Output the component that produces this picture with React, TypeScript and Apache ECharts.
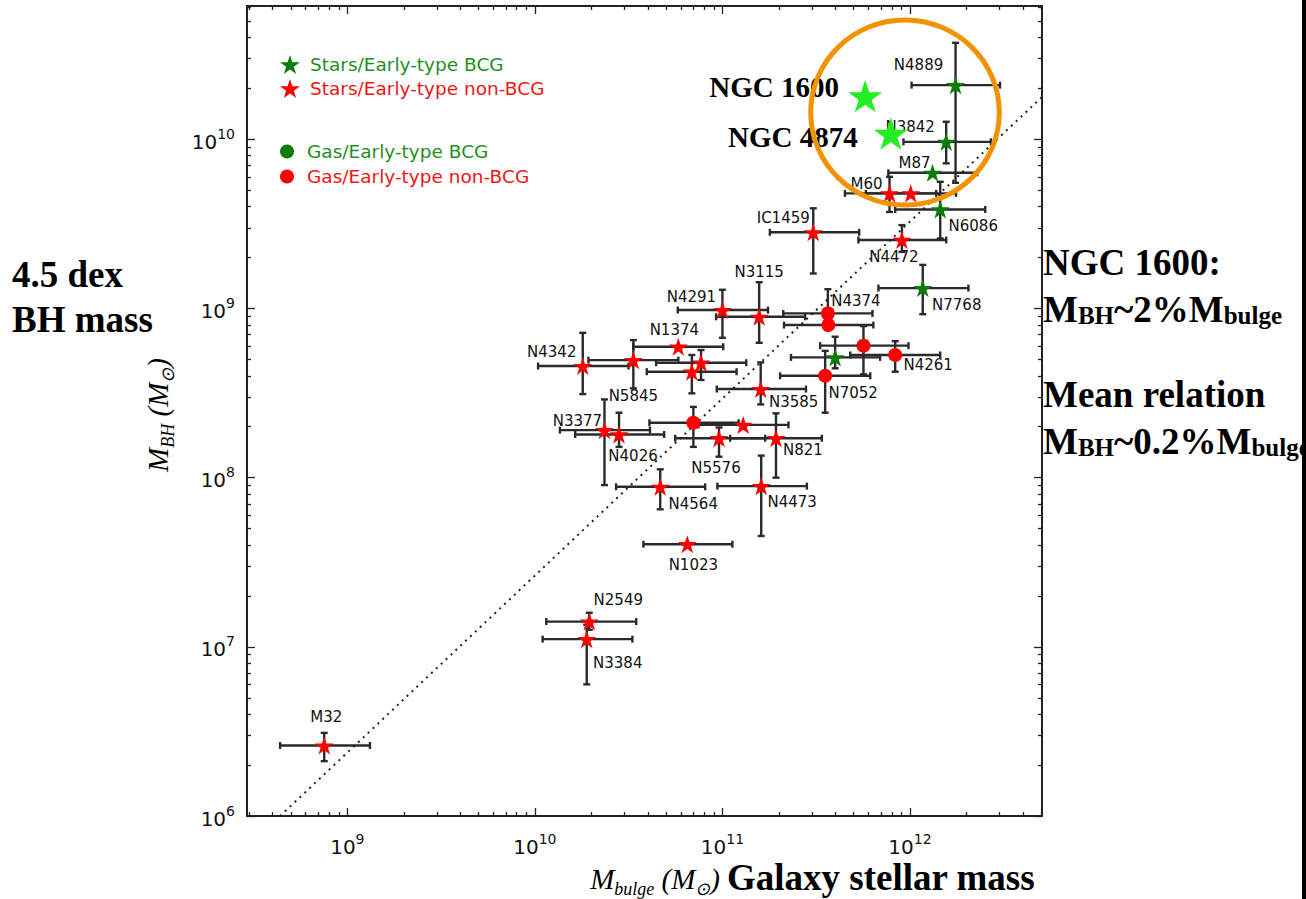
import React, { useEffect, useRef } from 'react';
import * as echarts from 'echarts';

// ---------- axis ranges (log10 of solar masses) and tick exponents ----------
const xLogRange = [8.465, 12.704];
const yLogRange = [6, 10.788];
const xMajorExponents = [9, 10, 11, 12];
const yMajorExponents = [6, 7, 8, 9, 10];
const minorMultipliers = [2, 3, 4, 5, 6, 7, 8, 9];

// ---------- Stars / Early-type BCG ----------
const starsBcgNames = ['N4889', 'N3842', 'M87', 'N6086', 'N7768', ''];
const starsBcgMbulge = [1.75e12, 1.56e12, 1.32e12, 1.45e12, 1.17e12, 3.99e11];
const starsBcgMbh = [2.09e10, 9.66e9, 6.34e9, 3.85e9, 1.32e9, 5.14e8];
const starsBcgMbulgeErr = [[1.02e12, 3.02e12], [9.23e11, 2.7e12], [7.67e11, 2.28e12], [8.34e11, 2.52e12], [6.79e11, 2.05e12], [2.32e11, 6.93e11]];
const starsBcgMbhErr = [[5.53e9, 3.72e10], [7.21e9, 1.27e10], null, [2.59e9, 5.61e9], [9.25e8, 1.81e9], [4.43e8, 6.81e8]];

// ---------- Stars / Early-type non-BCG ----------
const starsNonNames = ['M60', '', 'IC1459', 'N4472', 'N3115', 'N4291', 'N4342', 'N5845', 'N1374', '', '', 'N3585', 'N3377', 'N4026', '', 'N5576', 'N821', 'N4564', 'N4473', 'N1023', 'N2549', 'N3384', 'M32'];
const starsNonMbulge = [7.78e11, 1.01e12, 3.05e11, 9.06e11, 1.57e11, 1.0e11, 1.8e10, 3.35e10, 5.82e10, 7.69e10, 6.87e10, 1.6e11, 2.35e10, 2.81e10, 1.29e11, 9.59e10, 1.93e11, 4.66e10, 1.61e11, 6.5e10, 1.95e10, 1.89e10, 7.53e8];
const starsNonMbh = [4.79e9, 4.79e9, 2.82e9, 2.54e9, 8.93e8, 9.79e8, 4.57e8, 4.95e8, 5.94e8, 4.78e8, 4.23e8, 3.34e8, 1.91e8, 1.8e8, 2.05e8, 1.71e8, 1.71e8, 8.83e7, 8.91e7, 4.04e7, 1.41e7, 1.11e7, 2.61e6];
const starsNonMbulgeErr = [[4.5e11, 1.38e12], [5.82e11, 1.76e12], [1.79e11, 5.36e11], [5.31e11, 1.56e12], [9.25e10, 2.76e11], [5.78e10, 1.75e11], [1.04e10, 3.16e10], [1.93e10, 5.82e10], [3.35e10, 1.01e11], [4.43e10, 1.34e11], [3.95e10, 1.19e11], [9.33e10, 2.79e11], [1.36e10, 4.11e10], [1.64e10, 4.89e10], [7.45e10, 2.25e11], [5.6e10, 1.69e11], [1.1e11, 3.39e11], [2.71e10, 8.09e10], [9.4e10, 2.82e11], [3.79e10, 1.13e11], [1.15e10, 3.47e10], [1.1e10, 3.31e10], [4.38e8, 1.32e9]];
const starsNonMbhErr = [[3.72e9, 6.0e9], null, [1.61e9, 3.91e9], [2.16e9, 3.11e9], [6.27e8, 1.43e9], [6.71e8, 1.29e9], [3.12e8, 7.18e8], [3.37e8, 6.5e8], null, [3.78e8, 5.68e8], [3.15e8, 5.31e8], [2.71e8, 4.8e8], [9.04e7, 2.9e8], [1.52e8, 2.42e8], null, [1.33e8, 1.98e8], [1.0e8, 2.4e8], [6.5e7, 1.12e8], [4.52e7, 1.35e8], null, [1.26e7, 1.59e7], [6.0e6, 1.35e7], [2.11e6, 3.1e6]];

// ---------- Gas / Early-type BCG (none plotted) ----------
const gasBcgMbulge: number[] = [];
const gasBcgMbh: number[] = [];

// ---------- Gas / Early-type non-BCG ----------
const gasNonNames = ['N4374', '', '', 'N4261', 'N7052', ''];
const gasNonMbulge = [3.65e11, 3.67e11, 5.65e11, 8.34e11, 3.53e11, 7.0e10];
const gasNonMbh = [9.35e8, 7.98e8, 6.03e8, 5.31e8, 4.0e8, 2.11e8];
const gasNonMbulgeErr = [[2.11e11, 6.31e11], [2.13e11, 6.38e11], [3.32e11, 9.82e11], [4.8e11, 1.45e12], [2.03e11, 6.14e11], [4.08e10, 1.22e11]];
const gasNonMbhErr = [[7.45e8, 1.3e9], null, [4.08e8, 7.87e8], [4.23e8, 6.41e8], [2.42e8, 5.62e8], [1.52e8, 2.62e8]];

// ---------- highlighted new measurements ----------
const highlightNames = ['NGC 1600', 'NGC 4874'];
const highlightMbulge = [5.77e11, 7.91e11];
const highlightMbh = [1.8e10, 1.08e10];

// ---------- mean relation (dotted line end points) ----------
const meanRelationMbulge = [4.38e8, 5.06e12];
const meanRelationMbh = [1.0e6, 1.78e10];

// ---------- label placement (pixel offsets from the marker) ----------
const labelOffsets: Record<string, [number, number]> = {
  N4889: [-37, -20], N3842: [-36, -15], M87: [-18, -10], M60: [-23, -9], N6086: [33, 17],
  IC1459: [-30, -14], N4472: [-8, 17], N3115: [0, -45], N4291: [-31, -13], N4374: [28, -12],
  N7768: [34, 17], N4261: [33, 10], N7052: [28, 17], N3585: [33, 13], N5576: [-3, 30],
  N821: [27, 12], N4564: [33, 17], N4473: [31, 16], N1023: [6, 21], N1374: [-4, -17],
  N4342: [-31, -14], N5845: [0, 36], N3377: [-27, -9], N4026: [14, 22], N2549: [29, -22],
  N3384: [31, 24], M32: [2, -29], 'NGC 1600': [-91, -9], 'NGC 4874': [-98, 3],
};

const STAR = 'path://M0,-10L2.245,-3.09L9.511,-3.09L3.633,1.18L5.878,8.09L0,3.82L-5.878,8.09L-3.633,1.18L-9.511,-3.09L-2.245,-3.09Z';
const GREEN = '#0a7d0a';
const RED = '#ff0000';
const LIME = '#22ee22';
const lg = Math.log10;

function minorValues(range: number[]) {
  const out: number[] = [];
  for (let n = Math.floor(range[0]); n <= Math.ceil(range[1]); n++) {
    for (const k of minorMultipliers) {
      const v = n + lg(k);
      if (v > range[0] && v < range[1]) out.push(v);
    }
  }
  return out;
}

function errRows(mb: number[], mh: number[], xe: (number[] | null)[], ye: (number[] | null)[]) {
  return mb.map((m, i) => [
    lg(m), lg(mh[i]),
    xe[i] ? lg(xe[i]![0]) : NaN, xe[i] ? lg(xe[i]![1]) : NaN,
    ye[i] ? lg(ye[i]![0]) : NaN, ye[i] ? lg(ye[i]![1]) : NaN,
  ]);
}

function pointData(names: string[], mb: number[], mh: number[]) {
  return mb.map((m, i) => {
    const name = names[i];
    return {
      name,
      value: [lg(m), lg(mh[i])],
      label: name ? { show: true, position: 'inside', offset: labelOffsets[name] || [0, 0] } : { show: false },
    };
  });
}

const tickFont = 'DejaVu Sans';
const tickRich = {
  b: { fontSize: 20, fontFamily: tickFont, color: '#111', lineHeight: 25, verticalAlign: 'bottom' },
  s: { fontSize: 14, fontFamily: tickFont, color: '#111', lineHeight: 14, verticalAlign: 'top' },
};
const axisColor = '#222';

function makeX(position: string, values: number[], length: number, labels: boolean, line: boolean) {
  return {
    type: 'value', position, min: xLogRange[0], max: xLogRange[1],
    axisLine: { show: line, onZero: false, lineStyle: { color: axisColor, width: 2 } },
    axisTick: { show: true, inside: true, length, customValues: values, lineStyle: { color: axisColor, width: 1.3 } },
    axisLabel: labels
      ? { show: true, customValues: values, margin: 16, formatter: (v: number) => `{b|10}{s|${Math.round(v)}}`, rich: tickRich }
      : { show: false },
    splitLine: { show: false },
  };
}
function makeY(position: string, values: number[], length: number, labels: boolean, line: boolean) {
  return {
    type: 'value', position, min: yLogRange[0], max: yLogRange[1],
    axisLine: { show: line, onZero: false, lineStyle: { color: axisColor, width: 2 } },
    axisTick: { show: true, inside: true, length, customValues: values, lineStyle: { color: axisColor, width: 1.3 } },
    axisLabel: labels
      ? { show: true, customValues: values, margin: 12, formatter: (v: number) => `{b|10}{s|${Math.round(v)}}`, rich: tickRich }
      : { show: false },
    splitLine: { show: false },
  };
}

function errorBarRender(params: any, api: any) {
  const x = api.value(0), y = api.value(1);
  const xlo = api.value(2), xhi = api.value(3), ylo = api.value(4), yhi = api.value(5);
  const cap = 3.5;
  const st = { stroke: '#2a2a2a', lineWidth: 2.4 };
  const kids: any[] = [];
  if (isFinite(xlo) && isFinite(xhi)) {
    const a = api.coord([xlo, y]);
    const b = api.coord([xhi, y]);
    kids.push({ type: 'line', shape: { x1: a[0], y1: a[1], x2: b[0], y2: b[1] }, style: st });
    kids.push({ type: 'line', shape: { x1: a[0], y1: a[1] - cap, x2: a[0], y2: a[1] + cap }, style: st });
    kids.push({ type: 'line', shape: { x1: b[0], y1: b[1] - cap, x2: b[0], y2: b[1] + cap }, style: st });
  }
  if (isFinite(ylo) && isFinite(yhi)) {
    const a = api.coord([x, ylo]);
    const b = api.coord([x, yhi]);
    kids.push({ type: 'line', shape: { x1: a[0], y1: a[1], x2: b[0], y2: b[1] }, style: st });
    kids.push({ type: 'line', shape: { x1: a[0] - cap, y1: a[1], x2: a[0] + cap, y2: a[1] }, style: st });
    kids.push({ type: 'line', shape: { x1: b[0] - cap, y1: b[1], x2: b[0] + cap, y2: b[1] }, style: st });
  }
  return { type: 'group', children: kids };
}

function buildOption(): any {
  const xMinor = minorValues(xLogRange);
  const yMinor = minorValues(yLogRange);
  const errData = [
    ...errRows(starsBcgMbulge, starsBcgMbh, starsBcgMbulgeErr, starsBcgMbhErr),
    ...errRows(starsNonMbulge, starsNonMbh, starsNonMbulgeErr, starsNonMbhErr),
    ...errRows(gasNonMbulge, gasNonMbh, gasNonMbulgeErr, gasNonMbhErr),
  ];
  const labelStyle = { fontSize: 15, fontFamily: 'DejaVu Sans', color: '#111', formatter: '{b}' };
  const serif = 'Liberation Serif';
  const mathRich = {
    m: { fontSize: 29, fontFamily: serif, fontStyle: 'italic', color: '#444', verticalAlign: 'bottom', padding: [0, 0, 5, 0] },
    sub: { fontSize: 18, fontFamily: serif, fontStyle: 'italic', color: '#444', verticalAlign: 'bottom' },
  };
  const bigRich = {
    big: { fontSize: 37, fontFamily: serif, fontWeight: 'bold', color: '#000', verticalAlign: 'bottom' },
    sm: { fontSize: 25, fontFamily: serif, fontWeight: 'bold', color: '#000', verticalAlign: 'bottom' },
    red: { fontSize: 37, fontFamily: serif, fontWeight: 'bold', color: '#ec1c24', verticalAlign: 'bottom' },
  };
  const boldFont = `bold 37px "${serif}"`;
  return {
    animation: false,
    backgroundColor: '#ffffff',
    grid: { left: 247, top: 6, right: 264, bottom: 83, containLabel: false },
    xAxis: [
      makeX('bottom', xMajorExponents, 8, true, true),
      makeX('bottom', xMinor, 4, false, false),
      makeX('top', xMajorExponents, 8, false, true),
      makeX('top', xMinor, 4, false, false),
    ],
    yAxis: [
      makeY('left', yMajorExponents, 8, true, true),
      makeY('left', yMinor, 4, false, false),
      makeY('right', yMajorExponents, 8, false, true),
      makeY('right', yMinor, 4, false, false),
    ],
    legend: [
      {
        orient: 'vertical', left: 280, top: 55, padding: 0, itemWidth: 20, itemHeight: 19, itemGap: 5,
        selectedMode: false,
        textStyle: { fontSize: 18.5, fontFamily: 'DejaVu Sans', padding: [0, 0, 0, 5] },
        data: [
          { name: 'Stars/Early-type BCG', icon: STAR, textStyle: { color: '#1f8f1f' } },
          { name: 'Stars/Early-type non-BCG', icon: STAR, textStyle: { color: '#ee1515' } },
        ],
      },
      {
        orient: 'vertical', left: 280, top: 142, padding: 0, itemWidth: 20, itemHeight: 14, itemGap: 6,
        selectedMode: false,
        textStyle: { fontSize: 18.5, fontFamily: 'DejaVu Sans', padding: [0, 0, 0, 5] },
        data: [
          { name: 'Gas/Early-type BCG', icon: 'circle', textStyle: { color: '#1f8f1f' } },
          { name: 'Gas/Early-type non-BCG', icon: 'circle', textStyle: { color: '#ee1515' } },
        ],
      },
    ],
    series: [
      {
        type: 'line', name: 'Mean relation', silent: true, z: 1,
        data: meanRelationMbulge.map((m, i) => [lg(m), lg(meanRelationMbh[i])]),
        showSymbol: false, symbol: 'none',
        lineStyle: { color: '#222', width: 2, type: [2, 4.7] },
      },
      {
        type: 'custom', name: 'error bars', silent: true, z: 1,
        renderItem: errorBarRender,
        encode: { x: 0, y: 1 },
        data: errData,
      },
      {
        type: 'scatter', name: 'Stars/Early-type BCG', symbol: STAR, symbolSize: 19, symbolKeepAspect: true, z: 3,
        itemStyle: { color: GREEN, opacity: 1 }, label: labelStyle,
        data: pointData(starsBcgNames, starsBcgMbulge, starsBcgMbh),
      },
      {
        type: 'scatter', name: 'Stars/Early-type non-BCG', symbol: STAR, symbolSize: 19, symbolKeepAspect: true, z: 3,
        itemStyle: { color: RED, opacity: 1 }, label: labelStyle,
        data: pointData(starsNonNames, starsNonMbulge, starsNonMbh),
      },
      {
        type: 'scatter', name: 'Gas/Early-type BCG', symbol: 'circle', symbolSize: 14, z: 3,
        itemStyle: { color: GREEN, opacity: 1 },
        data: gasBcgMbulge.map((m, i) => [lg(m), lg(gasBcgMbh[i])]),
      },
      {
        type: 'scatter', name: 'Gas/Early-type non-BCG', symbol: 'circle', symbolSize: 14, z: 3,
        itemStyle: { color: RED, opacity: 1 }, label: labelStyle,
        data: pointData(gasNonNames, gasNonMbulge, gasNonMbh),
      },
      {
        type: 'scatter', name: 'highlight', symbol: STAR, symbolSize: 34, symbolKeepAspect: true, z: 5,
        itemStyle: { color: LIME, opacity: 1 },
        label: { fontSize: 29, fontFamily: serif, fontWeight: 'bold', color: '#000', formatter: '{b}' },
        data: pointData(highlightNames, highlightMbulge, highlightMbh),
      },
    ],
    graphic: [
      {
        type: 'ellipse', z: 100, silent: true,
        shape: { cx: 905, cy: 112.5, rx: 94.3, ry: 92.5 },
        style: { fill: 'none', stroke: '#f39200', lineWidth: 5 },
      },
      { type: 'text', z: 100, x: 12, y: 274.4, style: { text: '4.5 dex', font: boldFont, fill: '#000', textAlign: 'left', textVerticalAlign: 'middle' } },
      { type: 'text', z: 100, x: 12, y: 319.4, style: { text: 'BH mass', font: boldFont, fill: '#000', textAlign: 'left', textVerticalAlign: 'middle' } },
      { type: 'text', z: 100, x: 1043, y: 262.4, style: { text: 'NGC 1600:', font: boldFont, fill: '#000', textAlign: 'left', textVerticalAlign: 'middle' } },
      {
        type: 'text', z: 100, x: 1043, y: 328,
        style: { text: '{big|M}{sm|BH}{big|~}{red|2%}{big|M}{sm|bulge}', rich: bigRich, textAlign: 'left', textVerticalAlign: 'bottom' },
      },
      { type: 'text', z: 100, x: 1043, y: 394, style: { text: 'Mean relation', font: boldFont, fill: '#000', textAlign: 'left', textVerticalAlign: 'middle' } },
      {
        type: 'text', z: 100, x: 1043, y: 459.7,
        style: { text: '{big|M}{sm|BH}{big|~}{red|0.2%}{big|M}{sm|bulge}', rich: bigRich, textAlign: 'left', textVerticalAlign: 'bottom' },
      },
      {
        type: 'text', z: 100, x: 720, y: 898,
        style: { text: '{m|M}{sub|bulge}{m| (M}{sub|⊙}{m|)}', rich: mathRich, textAlign: 'right', textVerticalAlign: 'bottom' },
      },
      { type: 'text', z: 100, x: 727, y: 877, style: { text: 'Galaxy stellar mass', font: boldFont, lineHeight: 26, fill: '#000', textAlign: 'left', textVerticalAlign: 'middle' } },
      {
        type: 'text', z: 100, x: 160, y: 415, rotation: Math.PI / 2,
        style: { text: '{m|M}{sub|BH}{m| (M}{sub|⊙}{m|)}', rich: mathRich, textAlign: 'center', textVerticalAlign: 'middle' },
      },
      { type: 'rect', z: 120, shape: { x: 1302, y: 0, width: 4, height: 899 }, style: { fill: '#000' } },
    ],
  };
}

export default function App() {
  const ref = useRef<HTMLDivElement>(null);
  useEffect(() => {
    if (!ref.current) return;
    const chart = echarts.init(ref.current, null, { renderer: 'svg' });
    chart.setOption(buildOption());
    return () => chart.dispose();
  }, []);
  return <div ref={ref} style={{ position: 'fixed', left: 0, top: 0, width: 1306, height: 899, background: '#fff' }} />;
}
